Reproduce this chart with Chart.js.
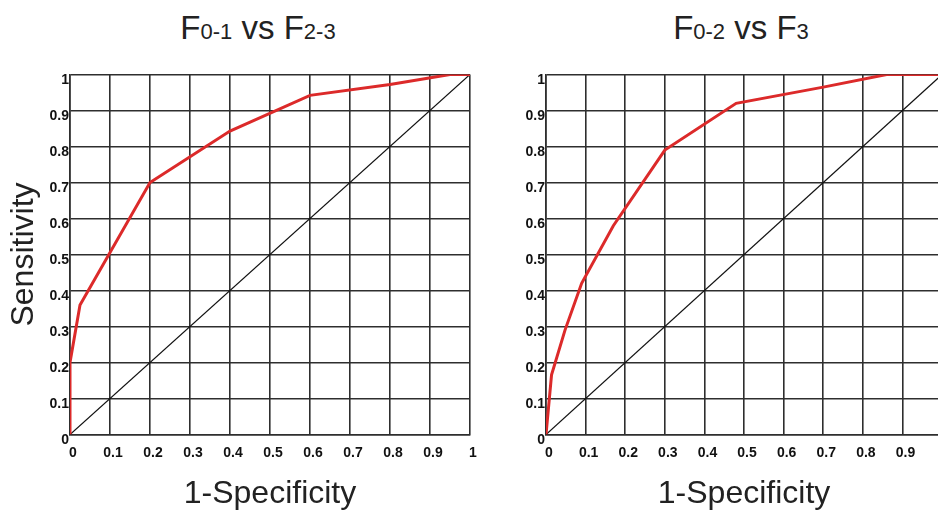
<!DOCTYPE html>
<html>
<head>
<meta charset="utf-8">
<script src="https://cdn.jsdelivr.net/npm/chart.js@4/dist/chart.umd.min.js"></script>
<style>
  body { margin: 0; background: #fff; overflow: hidden; width: 938px; height: 513px; position: relative; }
  canvas { position: absolute; top: 0; }
  .titulo { position: absolute; top: 11px; width: 300px; text-align: center; font-family: "Liberation Sans", Arial, sans-serif; font-size: 33px; line-height: 33px; color: #222; white-space: nowrap; }
  .titulo span { font-size: 22px; }
</style>
</head>
<body>
<div class="titulo" style="left:108px">F<span>0-1</span> vs F<span>2-3</span></div>
<div class="titulo" style="left:591px">F<span>0-2</span> vs F<span>3</span></div>
<canvas id="rocEsq" width="490" height="513" style="left:0"></canvas>
<canvas id="rocDir" width="480" height="513" style="left:476px"></canvas>
<script>
// curvas ROC
const fpEsq = [0, 0, 0.025, 0.2, 0.4, 0.6, 0.8, 0.95, 1];
const sensEsq = [0, 0.2, 0.36, 0.7, 0.843, 0.942, 0.972, 1, 1];

const fpDir = [0, 0.014, 0.048, 0.09, 0.17, 0.3, 0.48, 0.7, 0.86, 1];
const sensDir = [0, 0.166, 0.29, 0.42, 0.58, 0.79, 0.92, 0.965, 1, 1];

// linha de referência (acaso)
const refX = [0, 1];
const refY = [0, 1];

const tickLabels = ['0', '0.1', '0.2', '0.3', '0.4', '0.5', '0.6', '0.7', '0.8', '0.9', '1'];

const fonte = '"Liberation Sans", Arial, sans-serif';

function pontos(xs, ys) {
  return xs.map((x, i) => ({ x: x, y: ys[i] }));
}

function rocChart(id, xs, ys, tituloY, padRight) {
  const ctx = document.getElementById(id).getContext('2d');
  return new Chart(ctx, {
    type: 'line',
    data: {
      datasets: [
        {
          data: pontos(xs, ys),
          borderColor: '#dc2a2a',
          borderWidth: 3,
          pointRadius: 0,
          tension: 0,
          fill: false,
        },
        {
          data: pontos(refX, refY),
          borderColor: '#111',
          borderWidth: 1.2,
          pointRadius: 0,
          fill: false,
        },
      ],
    },
    options: {
      responsive: false,
      animation: false,
      layout: { padding: { left: 0, top: 74.5, right: padRight, bottom: 0 } },
      plugins: { legend: { display: false }, tooltip: { enabled: false } },
      scales: {
        x: {
          type: 'linear',
          min: 0,
          max: 1,
          afterFit: (s) => { s.height = 78.5; },
          grid: { color: '#2e2e2e', lineWidth: 1.6, drawTicks: false },
          border: { color: '#2e2e2e', width: 1.6 },
          ticks: {
            stepSize: 0.1,
            padding: 10,
            labelOffset: 3,
            color: '#111',
            font: { family: fonte, size: 14, weight: 'bold' },
            callback: (v, i) => tickLabels[i],
          },
          title: {
            display: true,
            text: '1-Specificity',
            color: '#222',
            font: { family: fonte, size: 32 },
            padding: { top: 0, bottom: 0 },
          },
        },
        y: {
          type: 'linear',
          min: 0,
          max: 1,
          afterFit: (s) => { s.width = 70; },
          grid: { color: '#2e2e2e', lineWidth: 1.6, drawTicks: false },
          border: { color: '#2e2e2e', width: 1.6 },
          ticks: {
            stepSize: 0.1,
            padding: 1,
            labelOffset: 6,
            color: '#111',
            font: { family: fonte, size: 14, weight: 'bold' },
            callback: (v, i) => tickLabels[i],
          },
          title: {
            display: tituloY !== '',
            text: tituloY,
            color: '#222',
            font: { family: fonte, size: 32 },
            padding: { top: 5, bottom: 0 },
          },
        },
      },
    },
  });
}

rocChart('rocEsq', fpEsq, sensEsq, 'Sensitivity', 20);
rocChart('rocDir', fpDir, sensDir, '', 11);
</script>
</body>
</html>
